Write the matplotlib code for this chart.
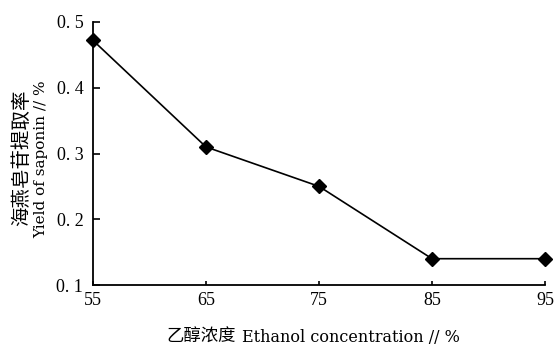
import matplotlib
matplotlib.use("Agg")
import matplotlib.pyplot as plt

concentration = [55, 65, 75, 85, 95]
yield_saponin = [0.472, 0.31, 0.25, 0.14, 0.14]
x_ticks = [55, 65, 75, 85, 95]
y_ticks = [0.1, 0.2, 0.3, 0.4, 0.5]
y_ticklabels = ["0. 1", "0. 2", "0. 3", "0. 4", "0. 5"]
xlabel_cn = "乙醇浓度"
xlabel_en = "Ethanol concentration // %"
ylabel_cn = "海燕皂苷提取率"
ylabel_en = "Yield of saponin // %"

W, H = 555, 345
serif = ["Liberation Serif", "Noto Sans CJK SC"]
wide = ["DejaVu Serif", "Noto Sans CJK SC"]
cjk = ["Noto Sans CJK SC", "Liberation Serif"]
plt.rcParams["font.family"] = serif

fig = plt.figure(figsize=(W / 100, H / 100), dpi=100)
ax = fig.add_axes([93 / W, 60 / H, 452 / W, 263 / H])

ax.plot(concentration, yield_saponin, color="black", lw=1.2,
        marker="D", markersize=7.5, markerfacecolor="black", markeredgecolor="black",
        clip_on=False, zorder=3)

ax.set_xlim(55, 95)
ax.set_ylim(0.1, 0.5)
ax.set_xticks(x_ticks)
ax.set_xticklabels([str(v) for v in x_ticks])
ax.set_yticks(y_ticks)
ax.set_yticklabels(y_ticklabels)

for s in ["top", "right"]:
    ax.spines[s].set_visible(False)
for s in ["left", "bottom"]:
    ax.spines[s].set_linewidth(1.3)
    ax.spines[s].set_color("black")

ax.tick_params(axis="y", direction="in", length=5, width=1.2, labelsize=13, pad=7)
ax.tick_params(axis="x", direction="in", length=3, width=1.2, labelsize=13, pad=5)

def px(x, y):
    return x / W, 1 - y / H

fig.text(*px(201, 337), xlabel_cn, family=cjk, fontsize=12.5, ha="center", va="center")
fig.text(*px(242, 337), xlabel_en, family=wide, fontsize=11.5, ha="left", va="center")
fig.text(*px(22, 158), ylabel_cn, family=cjk, fontsize=14, ha="center", va="center", rotation=90)
fig.text(*px(41, 159), ylabel_en, family=wide, fontsize=11, ha="center", va="center", rotation=90)

fig.savefig("out.png", dpi=100)
